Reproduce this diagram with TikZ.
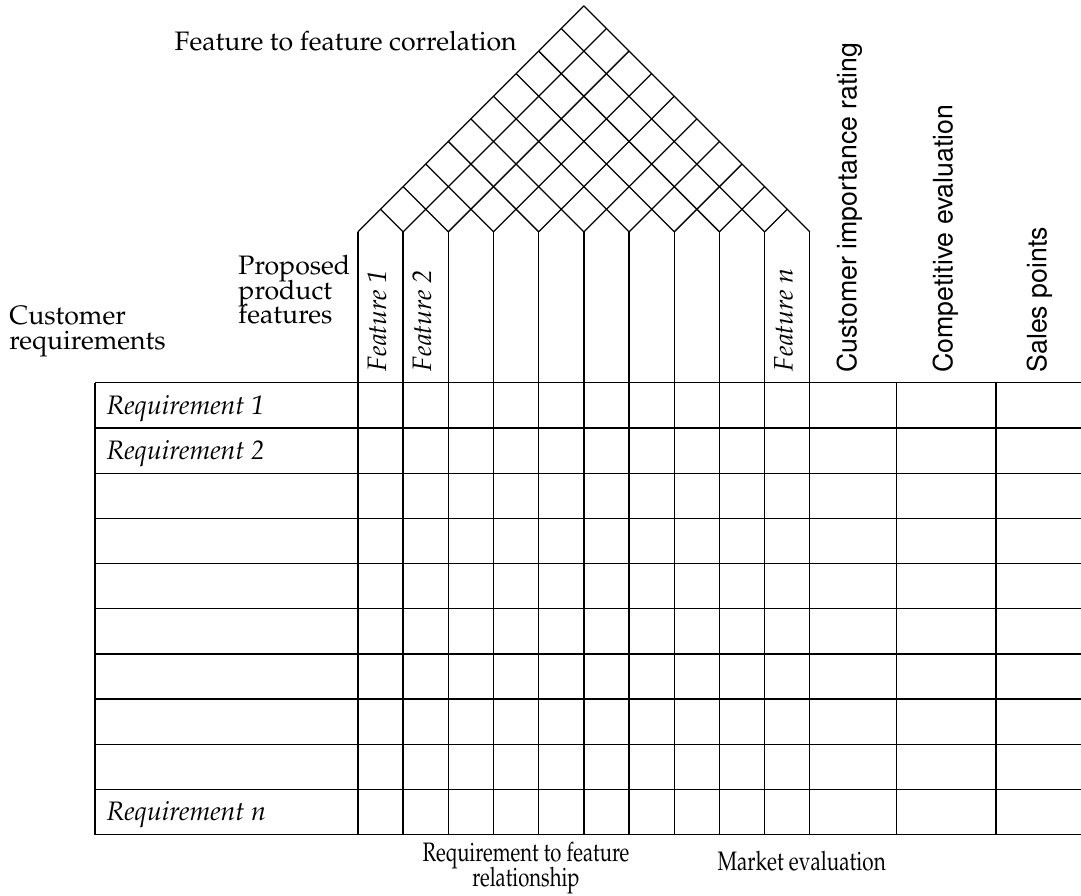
\documentclass[tikz,border=0pt]{standalone}
\usepackage[T1]{fontenc}
\usepackage{mathpazo}
\usepackage{tikz}
\usetikzlibrary{positioning}

\newcommand{\sidefont}{\fontfamily{phv}\selectfont}
\setlength{\lineskiplimit}{-20pt}

\tikzset{
  grid line/.style={line width=0.8pt},
  label text/.style={inner sep=0pt, font=\fontsize{16.8}{15.6}\selectfont},
  feature text/.style={label text, font=\fontsize{16.8}{15.6}\selectfont\itshape, rotate=90, anchor=west},
  row text/.style={label text, font=\fontsize{16.8}{15.6}\selectfont\itshape, anchor=west},
  side text/.style={inner sep=0pt, font=\sidefont\fontsize{16.8}{18}\selectfont, rotate=90, anchor=west},
  squeezed/.style={xscale=0.76, transform shape}
}

\begin{document}
\begin{tikzpicture}
      \useasboundingbox (-7.92,-11.35) rectangle (16,8.47);

      % roof: feature to feature correlation grid
      \foreach \i in {0,...,10} {
        \draw[grid line] (\i,3.34) -- ({(10+\i)/2},{3.34+(10-\i)/2});
        \draw[grid line] (\i,3.34) -- ({\i/2},{3.34+\i/2});
      }

      % feature columns and the table below
      \foreach \x in {0,...,10}
        \draw[grid line] (\x,3.34) -- (\x,-10);
      \foreach \x in {-5.82,11.92,14.12}
        \draw[grid line] (\x,0) -- (\x,-10);
      \foreach \y in {0,...,10}
        \draw[grid line] (-5.82,-\y) -- (16,-\y);

      % labels
      \node[label text, anchor=base east] (corr) at (3.52,7.35) {Feature to feature correlation};
      \node[label text, anchor=west, align=left] (custreq) at (-7.72,1.13) {Customer\\requirements};
      \node[label text, anchor=west, align=left] (propfeat) at (-2.65,2.06) {Proposed\\product\\features};

      \foreach \c/\t in {0/1,1/2,9/n}
        \node[feature text] (feat\t) at (\c+0.42,0.25) {Feature \t};

      \node[side text] (rating) at (10.88,0.22) {Customer importance rating};
      \node[side text] (compet) at (13.0,0.22) {Competitive evaluation};
      \node[side text] (sales) at (15.08,0.22) {Sales points};

      \foreach \r/\t in {1/1,2/2,10/n}
        \node[row text] (req\t) at (-5.57,{-\r+0.44}) {Requirement \t};

      \node[label text, squeezed, align=center] (relation) at (3.72,-10.74) {Requirement to feature\\relationship};
      \node[label text, squeezed, xscale=1.02] (market) at (9.82,-10.58) {Market evaluation};
    \end{tikzpicture}
\end{document}
